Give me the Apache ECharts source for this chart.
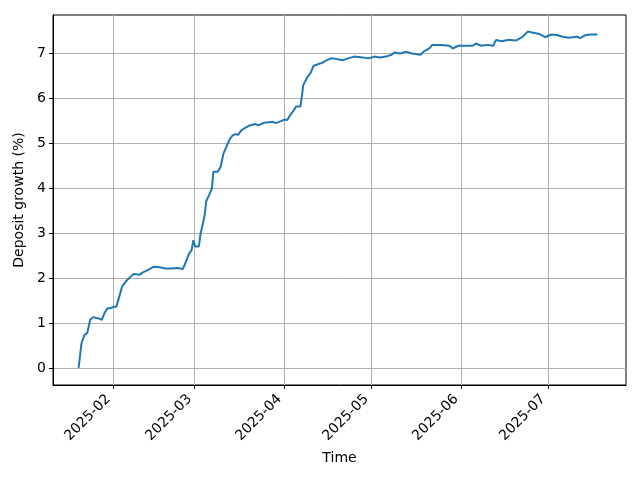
<!DOCTYPE html>
<html>
<head>
<meta charset="utf-8">
<script src="https://cdn.jsdelivr.net/npm/echarts@6/dist/echarts.min.js"></script>
<style>html,body{margin:0;padding:0;background:#fff;}#c{width:640px;height:480px;}</style>
</head>
<body>
<div id="c"></div>
<script>
const dates = ['2025-01-20','2025-01-21','2025-01-22','2025-01-23','2025-01-24','2025-01-25','2025-01-27','2025-01-28','2025-01-29','2025-01-30','2025-01-31',
'2025-02-01','2025-02-02','2025-02-03','2025-02-04','2025-02-05 12:00','2025-02-07','2025-02-08','2025-02-10','2025-02-11','2025-02-13','2025-02-15','2025-02-17','2025-02-19','2025-02-21','2025-02-23','2025-02-25','2025-02-26','2025-02-27','2025-02-28','2025-02-28 14:00',
'2025-03-01 05:00','2025-03-02 12:00','2025-03-03','2025-03-04','2025-03-04 12:00','2025-03-05','2025-03-06','2025-03-07','2025-03-07 12:00','2025-03-09','2025-03-10','2025-03-11','2025-03-12','2025-03-13','2025-03-14','2025-03-15','2025-03-16','2025-03-17','2025-03-18','2025-03-20','2025-03-22','2025-03-23','2025-03-25','2025-03-28','2025-03-29','2025-03-31',
'2025-04-01','2025-04-02','2025-04-03','2025-04-04','2025-04-05','2025-04-06 12:00','2025-04-07','2025-04-07 12:00','2025-04-08','2025-04-09','2025-04-10','2025-04-11','2025-04-13','2025-04-14','2025-04-15','2025-04-17','2025-04-18','2025-04-21','2025-04-23','2025-04-25','2025-04-28','2025-04-30',
'2025-05-02','2025-05-04','2025-05-06','2025-05-08','2025-05-09','2025-05-11','2025-05-13','2025-05-15','2025-05-18','2025-05-19','2025-05-21','2025-05-22','2025-05-25','2025-05-28','2025-05-29','2025-05-31',
'2025-06-03','2025-06-05','2025-06-06','2025-06-08','2025-06-10','2025-06-12','2025-06-13','2025-06-15','2025-06-17','2025-06-18','2025-06-20','2025-06-22','2025-06-24','2025-06-25','2025-06-28','2025-06-30',
'2025-07-02','2025-07-04','2025-07-06','2025-07-08','2025-07-11','2025-07-12','2025-07-14','2025-07-16','2025-07-18'];
const growth = [0.00,0.55,0.73,0.78,1.07,1.13,1.10,1.07,1.23,1.33,1.33,
1.36,1.36,1.58,1.81,1.94,2.03,2.09,2.07,2.12,2.18,2.25,2.24,2.21,2.21,2.22,2.20,2.36,2.53,2.62,2.84,
2.70,2.70,2.96,3.25,3.40,3.70,3.84,3.99,4.36,4.36,4.47,4.77,4.92,5.07,5.16,5.20,5.18,5.27,5.32,5.39,5.42,5.39,5.45,5.47,5.44,5.49,
5.52,5.51,5.62,5.70,5.81,5.81,6.03,6.29,6.33,6.47,6.55,6.71,6.76,6.78,6.82,6.88,6.88,6.84,6.88,6.92,6.90,6.88,
6.92,6.90,6.92,6.96,7.01,6.99,7.03,6.99,6.96,7.03,7.10,7.18,7.18,7.16,7.10,7.16,
7.16,7.16,7.21,7.16,7.18,7.16,7.29,7.26,7.29,7.29,7.28,7.35,7.48,7.46,7.42,7.35,
7.41,7.40,7.36,7.34,7.36,7.33,7.40,7.41,7.41];
const monthTicks = ['2025-02','2025-03','2025-04','2025-05','2025-06','2025-07'];
const yTicks = [0,1,2,3,4,5,6,7];
const xRange = ['2025-01-11 04:00','2025-07-27 20:00'];
const yRange = [-0.378, 7.844];

const P = s => +echarts.number.parseDate(s);
const xTickVals = monthTicks.map(m => P(m + '-01'));
const font = 'DejaVu Sans';
const chart = echarts.init(document.getElementById('c'), null, {renderer:'canvas'});
chart.setOption({
  animation: false,
  backgroundColor: '#fff',
  grid: {left: 53, right: 14, top: 15, bottom: 95, show: true, borderColor: '#000', borderWidth: 1,
    backgroundColor: 'transparent', containLabel: false, outerBoundsMode: 'none'},
  xAxis: {
    type: 'value', min: P(xRange[0]), max: P(xRange[1]), scale: true,
    name: 'Time', nameLocation: 'middle', nameGap: 66,
    nameTextStyle: {fontFamily: font, fontSize: 14, color: '#000'},
    axisLine: {show: true, onZero: false, lineStyle: {color: '#000', width: 1}},
    axisTick: {show: true, length: 4, lineStyle: {color: '#000', width: 1}, customValues: xTickVals},
    axisLabel: {customValues: xTickVals, rotate: 45, margin: 7, padding: [0, 7, 0, 0], fontFamily: font, fontSize: 14, color: '#000',
      formatter: v => { const d = new Date(v); return d.getFullYear() + '-' + String(d.getMonth()+1).padStart(2,'0'); }},
    splitLine: {show: true, lineStyle: {color: '#b0b0b0', width: 1}}
  },
  yAxis: {
    type: 'value', min: yRange[0], max: yRange[1],
    name: 'Deposit growth (%)', nameLocation: 'middle', nameGap: 27,
    nameTextStyle: {fontFamily: font, fontSize: 14, color: '#000'},
    axisLine: {show: true, onZero: false, lineStyle: {color: '#000', width: 1}},
    axisTick: {show: true, length: 4, lineStyle: {color: '#000', width: 1}, customValues: yTicks},
    axisLabel: {customValues: yTicks, margin: 7, fontFamily: font, fontSize: 14, color: '#000'},
    splitLine: {show: true, lineStyle: {color: '#b0b0b0', width: 1}}
  },
  series: [{
    type: 'line', data: dates.map((d, i) => [P(d), growth[i]]),
    showSymbol: false, symbol: 'none',
    lineStyle: {color: '#1f77b4', width: 2}, itemStyle: {color: '#1f77b4'}
  }]
});
</script>
</body>
</html>
